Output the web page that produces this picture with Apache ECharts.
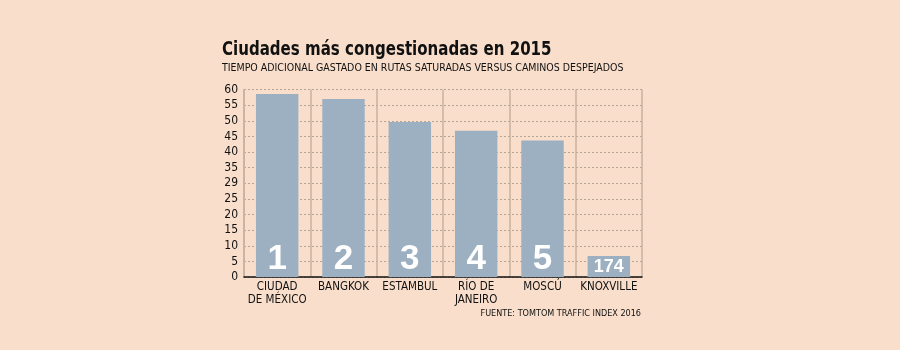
<!DOCTYPE html>
<html>
<head>
<meta charset="utf-8">
<script src="https://cdn.jsdelivr.net/npm/echarts@6/dist/echarts.min.js"></script>
<style>
  html, body { margin: 0; padding: 0; background: #f9dfcb; }
  #chart { width: 900px; height: 350px; }
</style>
</head>
<body>
<div id="chart"></div>
<script>
var cities = ["CIUDAD\nDE MÉXICO", "BANGKOK", "ESTAMBUL", "RÍO DE\nJANEIRO", "MOSCÚ", "KNOXVILLE"];
var extraTime = [58.6, 57.0, 49.6, 46.8, 43.7, 6.7];
var ranks = ["1", "2", "3", "4", "5", "174"];
// the original prints 29 where 30 would be
var yTickLabels = ["0", "5", "10", "15", "20", "25", "29", "35", "40", "45", "50", "55", "60"];

var chart = echarts.init(document.getElementById("chart"));
var font = "'DejaVu Sans Condensed', sans-serif";
var boldFont = "'Liberation Sans', Arial, sans-serif";

var option = {
  backgroundColor: "#f9dfcb",
  animation: false,
  graphic: [
    {
      // title font is narrower than anything installed, so squeeze it a bit
      type: "text",
      x: 222,
      y: 50,
      scaleX: 0.88,
      style: {
        text: "Ciudades más congestionadas en 2015",
        font: "bold 19px " + font,
        fill: "#111",
        verticalAlign: "middle",
      },
    },
    {
      type: "text",
      x: 222,
      y: 68,
      style: {
        text: "TIEMPO ADICIONAL GASTADO EN RUTAS SATURADAS VERSUS CAMINOS DESPEJADOS",
        font: "10.5px " + font,
        fill: "#111",
        verticalAlign: "middle",
      },
    },
    {
      type: "text",
      x: 641,
      y: 314,
      style: {
        text: "FUENTE: TOMTOM TRAFFIC INDEX 2016",
        font: "9px " + font,
        fill: "#111",
        align: "right",
        verticalAlign: "middle",
      },
    },
  ],
  grid: {
    left: 244,
    right: 258,
    top: 89.5,
    bottom: 73,
  },
  xAxis: {
    type: "category",
    data: cities,
    axisLine: { show: true, lineStyle: { color: "#111", width: 1.5 } },
    axisTick: { show: false },
    splitLine: { show: true, lineStyle: { color: "#c9b2a0", width: 1.5 } },
    axisLabel: {
      interval: 0,
      margin: 4,
      fontFamily: font,
      fontSize: 11.5,
      color: "#111",
      lineHeight: 13,
    },
  },
  yAxis: {
    type: "value",
    min: 0,
    max: 60,
    interval: 5,
    axisLine: { show: true, lineStyle: { color: "#c9b2a0", width: 1.5 } },
    axisTick: { show: false },
    splitLine: { show: true, lineStyle: { color: "#b5a596", type: [2, 2] } },
    axisLabel: {
      margin: 6,
      fontFamily: font,
      fontSize: 12,
      color: "#111",
      formatter: function (v) {
        return yTickLabels[Math.round(v / 5)];
      },
    },
  },
  series: [
    {
      type: "bar",
      barWidth: "64%",
      itemStyle: { color: "#9cb0c2" },
      label: {
        show: true,
        position: "insideBottom",
        distance: 0,
        fontFamily: boldFont,
        fontWeight: "bold",
        color: "#fff",
        fontSize: 35,
        formatter: function (p) {
          return ranks[p.dataIndex];
        },
      },
    },
  ],
};

// the Knoxville rank is drawn smaller so it fits its short bar
option.series[0].data = extraTime.map(function (v, i) {
  if (ranks[i].length > 1) {
    return { value: v, label: { fontSize: 18, distance: 1 } };
  }
  return v;
});

chart.setOption(option);
</script>
</body>
</html>
